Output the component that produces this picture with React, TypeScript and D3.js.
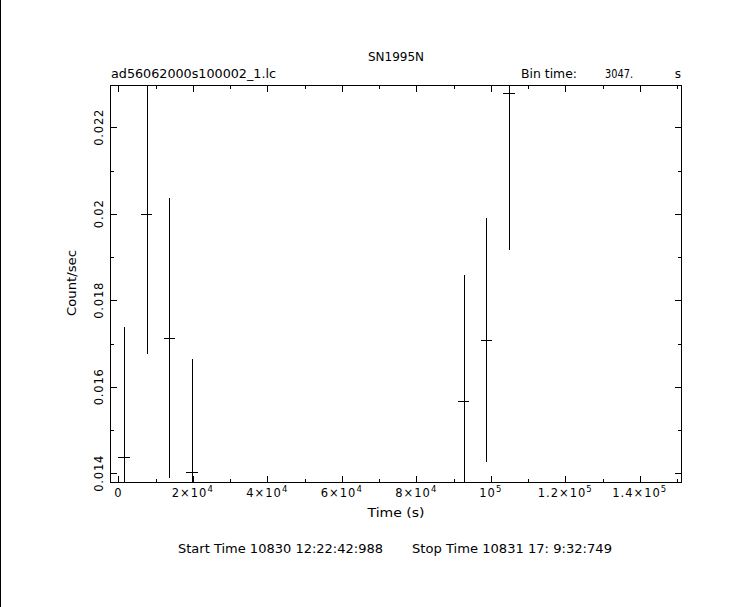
import React from "react";
import * as d3 from "d3";

const title = "SN1995N";
const fileLabel = "ad56062000s100002_1.lc";
const binLabel = "Bin time:";
const binValue = "3047.";
const binUnit = "s";
const startLabel = "Start Time 10830 12:22:42:988";
const stopLabel = "Stop Time 10831 17: 9:32:749";
const xAxisLabel = "Time (s)";
const yAxisLabel = "Count/sec";

const times = [1523, 7617, 13711, 19805, 92700, 98790, 104885];
const rates = [0.014377, 0.01999, 0.017121, 0.014023, 0.015672, 0.017082, 0.022786];
const errors = [0.00301, 0.00322, 0.00324, 0.00262, 0.00291, 0.00282, 0.00362];
const halfBin = 1523.5;

const xMajorTicks = [0, 20000, 40000, 60000, 80000, 100000, 120000, 140000];
const xTickLabels = ["0", "2×10^4", "4×10^4", "6×10^4", "8×10^4", "10^5", "1.2×10^5", "1.4×10^5"];
const xMinorTicks = [10000, 30000, 50000, 70000, 90000, 110000, 130000, 150000];
const yMajorTicks = [0.014, 0.016, 0.018, 0.02, 0.022];
const yTickLabels = ["0.014", "0.016", "0.018", "0.02", "0.022"];
const yMinorTicks = [0.015, 0.017, 0.019, 0.021];

const W = 743;
const H = 607;
const L = 110, R = 681, T = 85, B = 482;
const FONT = "DejaVu Sans, sans-serif";

const px = (v: number) => Math.round(v) + 0.5;

function TickLabel({ label, x, y }: { label: string; x: number; y: number }) {
  const [base, exp] = label.split("^");
  return (
    <text x={x} y={y} textAnchor="middle" fontSize={11.5} fontFamily={FONT} fill="#000" letterSpacing={1}>
      <tspan>{base}</tspan>
      {exp !== undefined && (
        <tspan fontSize={8.5} dy={-5.5}>{exp}</tspan>
      )}
    </text>
  );
}

export default function App() {
  const x = d3.scaleLinear().domain([-2230, 151060]).range([L, R]);
  const y = d3.scaleLinear().domain([0.013799, 0.022978]).range([B, T]);
  const major = 6.5;
  const minor = 3.5;
  const stroke = "#000";

  return (
    <svg
      width={W}
      height={H}
      style={{ position: "absolute", left: 0, top: 0, background: "#fff" }}
      shapeRendering="crispEdges"
    >
      <rect x={0} y={0} width={W} height={H} fill="#fff" />
      <line x1={0.5} x2={0.5} y1={0} y2={H} stroke={stroke} />
      <defs>
        <clipPath id="plotclip">
          <rect x={L} y={T} width={R - L} height={B - T} />
        </clipPath>
      </defs>

      {/* frame */}
      <rect x={L + 0.5} y={T + 0.5} width={R - L} height={B - T} fill="none" stroke={stroke} />

      {/* x ticks */}
      {xMajorTicks.map((t) => (
        <g key={"xm" + t}>
          <line x1={px(x(t))} x2={px(x(t))} y1={B} y2={B - major} stroke={stroke} />
          <line x1={px(x(t))} x2={px(x(t))} y1={T} y2={T + major} stroke={stroke} />
        </g>
      ))}
      {xMinorTicks.map((t) => (
        <g key={"xn" + t}>
          <line x1={px(x(t))} x2={px(x(t))} y1={B} y2={B - minor} stroke={stroke} />
          <line x1={px(x(t))} x2={px(x(t))} y1={T} y2={T + minor} stroke={stroke} />
        </g>
      ))}
      {/* y ticks */}
      {yMajorTicks.map((v) => (
        <g key={"ym" + v}>
          <line x1={L} x2={L + major} y1={px(y(v))} y2={px(y(v))} stroke={stroke} />
          <line x1={R} x2={R - major} y1={px(y(v))} y2={px(y(v))} stroke={stroke} />
        </g>
      ))}
      {yMinorTicks.map((v) => (
        <g key={"yn" + v}>
          <line x1={L} x2={L + minor} y1={px(y(v))} y2={px(y(v))} stroke={stroke} />
          <line x1={R} x2={R - minor} y1={px(y(v))} y2={px(y(v))} stroke={stroke} />
        </g>
      ))}

      {/* x tick labels */}
      {xMajorTicks.map((t, i) => (
        <TickLabel key={"xl" + t} label={xTickLabels[i]} x={x(t)} y={497} />
      ))}
      {/* y tick labels */}
      {yMajorTicks.map((v, i) => (
        <text
          key={"yl" + v}
          transform={`translate(102.5,${y(v)}) rotate(-90)`}
          textAnchor="middle"
          fontSize={11.5}
          fontFamily={FONT}
          fill="#000"
          letterSpacing={0.8}
        >
          {yTickLabels[i]}
        </text>
      ))}

      {/* data */}
      <g clipPath="url(#plotclip)">
        {times.map((t, i) => (
          <g key={"d" + i}>
            <line
              x1={px(x(t))}
              x2={px(x(t))}
              y1={y(rates[i] - errors[i])}
              y2={y(rates[i] + errors[i])}
              stroke={stroke}
            />
            <line
              x1={x(t - halfBin)}
              x2={x(t + halfBin)}
              y1={px(y(rates[i]))}
              y2={px(y(rates[i]))}
              stroke={stroke}
            />
          </g>
        ))}
      </g>

      {/* texts */}
      <text x={396} y={61} textAnchor="middle" fontSize={12} fontFamily={FONT} fill="#000">
        {title}
      </text>
      <text x={111} y={78} fontSize={12} fontFamily={FONT} fill="#000" textLength={165} lengthAdjust="spacingAndGlyphs">
        {fileLabel}
      </text>
      <text x={521} y={78} fontSize={12} fontFamily={FONT} fill="#000" textLength={56} lengthAdjust="spacingAndGlyphs">
        {binLabel}
      </text>
      <text x={605} y={78} fontSize={11.5} fontFamily={FONT} fill="#000" textLength={28} lengthAdjust="spacingAndGlyphs">
        {binValue}
      </text>
      <text x={681} y={78} textAnchor="end" fontSize={12} fontFamily={FONT} fill="#000">
        {binUnit}
      </text>
      <text x={396} y={517} textAnchor="middle" fontSize={12} fontFamily={FONT} fill="#000" textLength={57} lengthAdjust="spacingAndGlyphs">
        {xAxisLabel}
      </text>
      <text
        transform={`translate(76,283) rotate(-90)`}
        textAnchor="middle"
        fontSize={12}
        fontFamily={FONT}
        fill="#000"
        textLength={66}
        lengthAdjust="spacingAndGlyphs"
      >
        {yAxisLabel}
      </text>
      <text x={178} y={553} fontSize={12} fontFamily={FONT} fill="#000" textLength={205} lengthAdjust="spacingAndGlyphs">
        {startLabel}
      </text>
      <text x={412} y={553} fontSize={12} fontFamily={FONT} fill="#000" textLength={200} lengthAdjust="spacingAndGlyphs">
        {stopLabel}
      </text>
    </svg>
  );
}
